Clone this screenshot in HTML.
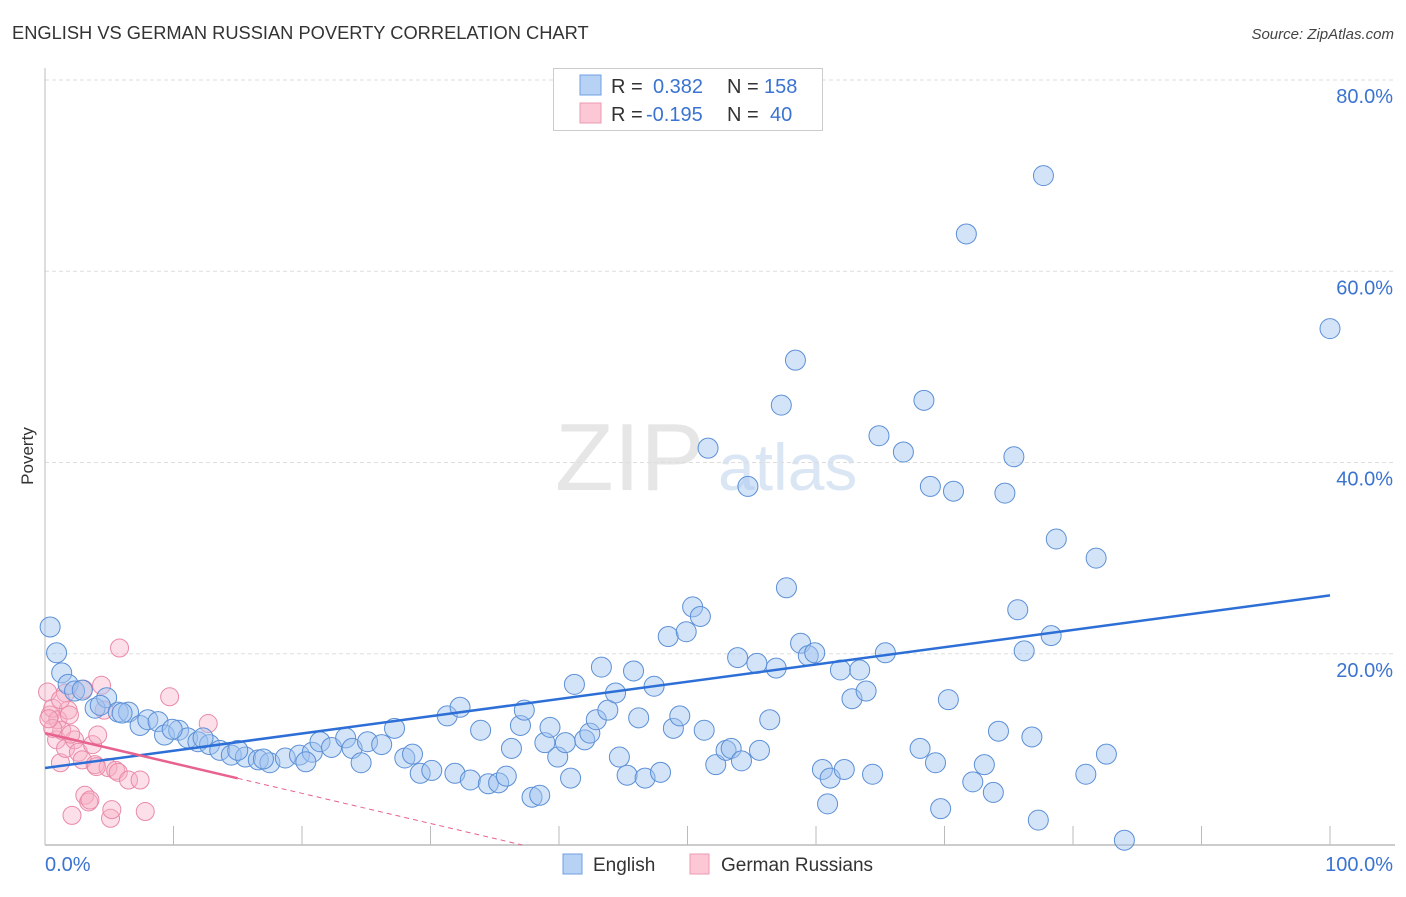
<!DOCTYPE html>
<html><head><meta charset="utf-8"><style>
body{margin:0;background:#fff;font-family:"Liberation Sans",sans-serif;}
svg text{font-family:"Liberation Sans",sans-serif;}
</style></head><body>
<svg id="chart" width="1406" height="892" xmlns="http://www.w3.org/2000/svg">
<text x="12" y="39" font-size="18.3" fill="#333">ENGLISH VS GERMAN RUSSIAN POVERTY CORRELATION CHART</text>
<text x="1394" y="39" font-size="15" fill="#444" text-anchor="end" font-style="italic">Source: ZipAtlas.com</text>
<text x="555" y="490" font-size="96" fill="#e6e6e6" font-family="Liberation Serif">ZIP</text>
<text x="718" y="490" font-size="66" fill="#dbe6f5">atlas</text>
<text transform="translate(33,456) rotate(-90)" font-size="17" fill="#333" text-anchor="middle">Poverty</text>
<g id="grid"></g>
<g id="axes"></g>
<g id="pts"></g>
<g id="trends"></g>
<g>
<rect x="553.500" y="68.500" width="269" height="62" fill="#fff" stroke="#ccc"/>
<rect x="580" y="75" width="21" height="20" fill="#b8d2f5" stroke="#6f9fe0"/>
<text x="611" y="93" font-size="20" fill="#333">R =</text>
<text x="653" y="93" font-size="20" fill="#3b73d0">0.382</text>
<text x="727" y="93" font-size="20" fill="#333">N =</text>
<text x="764" y="93" font-size="20" fill="#3b73d0">158</text>
<rect x="580" y="103" width="21" height="20" fill="#fcc8d6" stroke="#ec9ab2"/>
<text x="611" y="121" font-size="20" fill="#333">R =</text>
<text x="646" y="121" font-size="20" fill="#3b73d0">-0.195</text>
<text x="727" y="121" font-size="20" fill="#333">N =</text>
<text x="770" y="121" font-size="20" fill="#3b73d0">40</text>
</g>
<g>
<rect x="563" y="854" width="19" height="20" fill="#b8d2f5" stroke="#6f9fe0"/>
<text x="593" y="871" font-size="19" fill="#333">English</text>
<rect x="690" y="854" width="19" height="20" fill="#fcc8d6" stroke="#ec9ab2"/>
<text x="721" y="871" font-size="19" fill="#333">German Russians</text>
</g>
</svg>
<script>
const yTicks=[20,40,60,80];
const yTickLabels=["20.0%","40.0%","60.0%","80.0%"];
const xTickLabels=["0.0%","100.0%"];
const englishX=[0.4,0.9,1.3,1.8,2.3,2.9,3.9,4.8,4.3,5.7,6.5,7.4,8.0,8.8,9.3,10.4,11.1,11.9,12.8,13.6,14.5,15.6,16.6,17.5,18.7,19.8,20.8,21.4,22.3,23.4,23.9,25.1,26.2,27.2,28.0,29.2,30.1,31.3,32.3,31.9,33.1,34.5,35.3,35.9,36.3,37.0,37.3,33.9,37.9,38.5,38.9,39.3,39.9,40.5,40.9,41.2,42.0,42.4,42.9,43.3,43.8,44.4,44.7,45.3,45.8,46.2,46.7,47.4,47.9,48.5,48.9,49.4,49.9,50.4,51.0,51.3,51.6,52.2,53.0,53.4,53.9,54.2,54.7,55.4,55.6,56.4,56.9,57.3,57.7,58.4,58.8,59.4,59.9,60.5,60.9,61.1,61.9,62.2,62.8,63.4,63.9,64.4,64.9,65.4,66.8,68.1,68.4,68.9,69.3,69.7,70.3,70.7,71.7,72.2,73.1,73.8,74.2,74.7,75.4,75.7,76.2,76.8,77.3,77.7,78.3,78.7,81.0,81.8,82.6,84.0,100,6.0,9.9,12.3,15.0,17.0,20.3,24.6,28.6];
const englishY=[22.8,20.1,18.0,16.8,16.1,16.2,14.3,15.4,14.6,13.9,13.9,12.5,13.1,12.9,11.5,12.0,11.2,10.8,10.5,9.9,9.4,9.2,8.9,8.6,9.1,9.4,9.7,10.8,10.2,11.2,10.1,10.8,10.5,12.2,9.1,7.5,7.8,13.5,14.4,7.5,6.8,6.4,6.5,7.2,10.1,12.5,14.1,12.0,5.0,5.2,10.7,12.3,9.2,10.7,7.0,16.8,11.0,11.7,13.1,18.6,14.1,15.9,9.2,7.3,18.2,13.3,7.0,16.6,7.6,21.8,12.2,13.5,22.3,24.9,23.9,12.0,41.5,8.4,9.9,10.1,19.6,8.8,37.5,19.0,9.9,13.1,18.5,46.0,26.9,50.7,21.1,19.8,20.1,7.9,4.3,7.0,18.3,7.9,15.3,18.3,16.1,7.4,42.8,20.1,41.1,10.1,46.5,37.5,8.6,3.8,15.2,37.0,63.9,6.6,8.4,5.5,11.9,36.8,40.6,24.6,20.3,11.3,2.6,70.0,21.9,32.0,7.4,30.0,9.5,0.5,54.0,13.8,12.1,11.2,9.9,9.0,8.7,8.6,9.5];
const germanX=[0.2,0.4,0.6,0.9,1.0,1.2,1.3,1.6,1.8,2.1,2.3,2.6,2.9,3.1,3.4,3.7,3.9,4.1,4.4,4.6,4.9,5.1,5.5,5.7,6.5,7.4,7.8,5.8,9.7,12.7,1.6,1.9,1.2,0.6,5.2,3.5,0.3,2.0,3.0,4.0];
const germanY=[16.0,13.6,14.3,11.0,13.1,8.6,12.0,10.1,14.1,3.1,11.0,9.7,8.9,5.2,4.5,10.5,8.4,11.5,16.7,14.1,8.1,2.8,7.8,7.6,6.8,6.8,3.5,20.6,15.5,12.7,15.9,13.6,15.2,12.2,3.7,4.7,13.2,11.6,16.3,8.2];
const englishTrend=[8.05,0.1805];
const germanTrend=[11.7,-0.315];
const NS="http://www.w3.org/2000/svg";
const X=v=>45+v*12.85, Y=v=>845-v*9.5625;
function mk(tag,attrs,parent){const e=document.createElementNS(NS,tag);for(const k in attrs)e.setAttribute(k,attrs[k]);document.getElementById(parent).appendChild(e);return e;}
yTicks.forEach((t,i)=>{
 const g=mk('line',{x1:45,x2:1395,y1:Y(t),y2:Y(t),stroke:'#ddd','stroke-dasharray':'4,3'},'grid');
 
 
 const tx=mk('text',{x:1393,y:Y(t)+23,'font-size':20,fill:'#3b73d0','text-anchor':'end'},'grid');
 tx.textContent=yTickLabels[i];
 
 
});
const ya=mk('line',{x1:45,x2:45,y1:68,y2:845,stroke:'#bbb'},'axes');


const xa=mk('line',{x1:45,x2:1395,y1:845,y2:845,stroke:'#bbb','stroke-width':1.5},'axes');


for(let v=10;v<=100;v+=10){const t=mk('line',{x1:X(v),x2:X(v),y1:826,y2:845,stroke:'#bbb'},'axes');
 
 }
[[0,'start',45],[100,'end',1393]].forEach((a,i)=>{const t=mk('text',{x:a[2],y:871,'font-size':20,fill:'#3b73d0','text-anchor':a[1]},'axes');t.textContent=xTickLabels[i];
 
 });
germanX.forEach((x,i)=>{const c=mk('circle',{cx:X(x),cy:Y(germanY[i]),r:9,fill:'rgba(248,175,198,0.4)',stroke:'#e98aa8','stroke-width':1},'pts');
 
 });
englishX.forEach((x,i)=>{const c=mk('circle',{cx:X(x),cy:Y(englishY[i]),r:10,fill:'rgba(160,196,240,0.45)',stroke:'#5b8fd6','stroke-width':1},'pts');
 
 });
const bl=mk('line',{x1:X(0),y1:Y(englishTrend[0]),x2:X(100),y2:Y(englishTrend[0]+100*englishTrend[1]),stroke:'#2d6fd6','stroke-width':2.5},'trends');


const pl=mk('line',{x1:X(0),y1:Y(germanTrend[0]),x2:X(15),y2:Y(germanTrend[0]+15*germanTrend[1]),stroke:'#e8628e','stroke-width':2.5},'trends');


const xe=-germanTrend[0]/germanTrend[1];
const pd=mk('line',{x1:X(15),y1:Y(germanTrend[0]+15*germanTrend[1]),x2:X(xe),y2:Y(0),stroke:'#e8628e','stroke-width':1,'stroke-dasharray':'5,4'},'trends');


</script>
</body></html>
